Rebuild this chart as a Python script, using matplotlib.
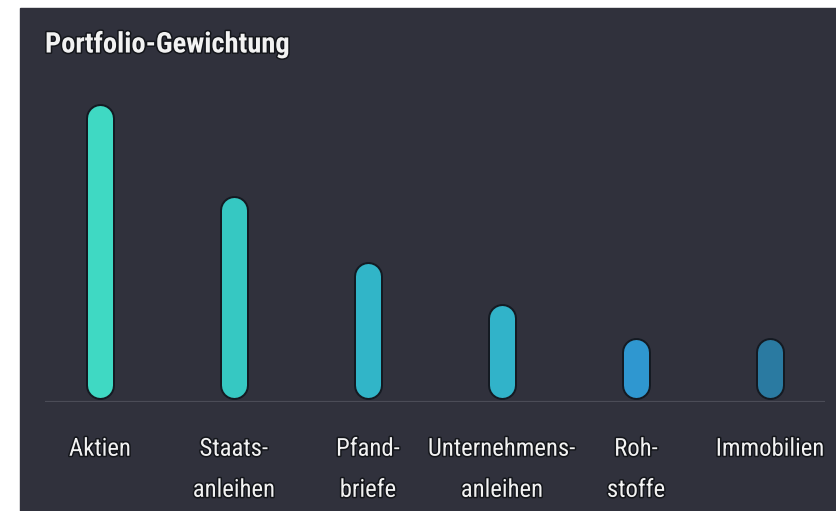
import matplotlib
matplotlib.use("Agg")
import matplotlib.pyplot as plt
from matplotlib.patches import Rectangle
from matplotlib import font_manager
import matplotlib.patheffects as pe

# Portfolio weights (%)
categories = ["Aktien", "Staats-\nanleihen", "Pfand-\nbriefe", "Unternehmens-\nanleihen", "Roh-\nstoffe", "Immobilien"]
weights = [35, 24, 16, 11, 7, 7]
bar_colors = ["#3fd9c3", "#36c8c2", "#31b5c8", "#31b3c9", "#2f97d0", "#2a7aa1"]

BG = "#30313c"
TEXT = "#f2f2f2"
halo = [pe.withStroke(linewidth=2.2, foreground="#14161b")]

installed = {f.name for f in font_manager.fontManager.ttflist}
narrow = [n for n in ("Roboto Condensed", "Liberation Sans Narrow") if n in installed]
if narrow:
    FONT = [narrow[0], "DejaVu Sans"]
    title_size, label_size = 20.5, 17.8
else:
    FONT = ["Roboto", "DejaVu Sans"]
    title_size, label_size = 18, 16

W, H = 836, 511
fig = plt.figure(figsize=(W / 100, H / 100), dpi=100, facecolor="white")

# dark card behind the chart
fig.add_artist(Rectangle((20 / W, 0), (W - 20) / W, (H - 8) / H,
                         transform=fig.transFigure, color=BG, zorder=0))

ax = fig.add_axes([45 / W, (H - 402) / H, 780 / W, (402 - 90) / H])
ax.set_facecolor("none")
ax.set_xlim(-0.41, 5.41)
ax.set_ylim(-0.5, 36.8)

x = list(range(len(categories)))

# pill-shaped bars: thick lines with round caps, inset by the cap radius
bar_px = 25
edge_px = 2
pt_per_px = 72 / fig.dpi
fig.canvas.draw()
inv = ax.transData.inverted()
px_to_y = inv.transform((0, 1))[1] - inv.transform((0, 0))[1]
r = (bar_px / 2) * px_to_y
for xi, v, col in zip(x, weights, bar_colors):
    ax.plot([xi, xi], [r, v - r], color="#141a22",
            linewidth=(bar_px + 2 * edge_px) * pt_per_px,
            solid_capstyle="round", zorder=3)
    ax.plot([xi, xi], [r, v - r], color=col,
            linewidth=bar_px * pt_per_px,
            solid_capstyle="round", zorder=4)

ax.axhline(-0.5, color="#4b4c57", linewidth=1.6, zorder=2)

for s in ax.spines.values():
    s.set_visible(False)
ax.set_yticks([])
ax.set_xticks(x)
ax.set_xticklabels(categories, fontsize=label_size, color=TEXT, family=FONT,
                   linespacing=1.9, va="top")
for lbl in ax.get_xticklabels():
    lbl.set_path_effects(halo)
ax.tick_params(axis="x", length=0, pad=25)

fig.text(45 / W, (H - 45) / H, "Portfolio-Gewichtung", fontsize=title_size,
         fontweight="bold", color=TEXT, family=FONT, va="center", ha="left",
         path_effects=halo)

fig.savefig("out.png", dpi=100, facecolor=fig.get_facecolor())
